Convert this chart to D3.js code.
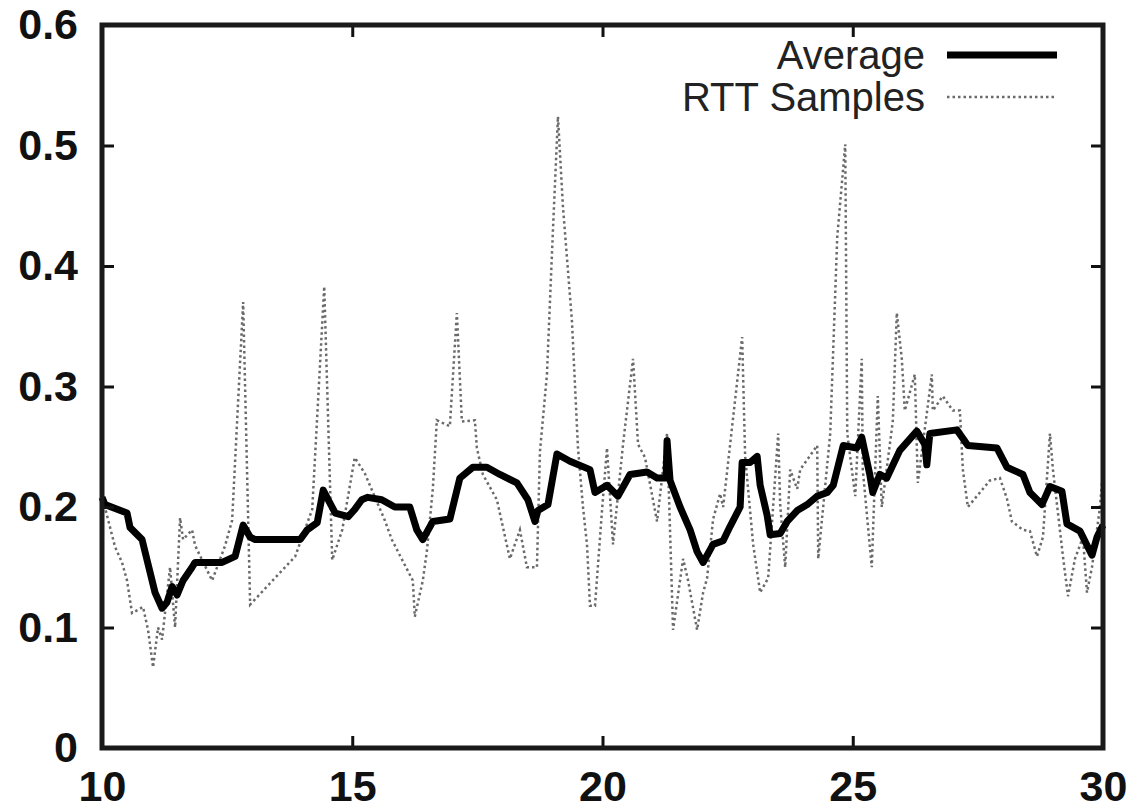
<!DOCTYPE html>
<html lang="en">
<head>
    <meta charset="UTF-8">
    <title>RTT Samples and Average</title>
    <script src="https://d3js.org/d3.v7.min.js"></script>
    <style>
        body { margin: 0; background: #fff; }
        .tick-label { font-family: "Liberation Sans", Arial, sans-serif; font-weight: bold; font-size: 43px; fill: #111; }
        .legend-label { font-family: "Liberation Sans", Arial, sans-serif; font-size: 40px; fill: #222; }
    </style>
</head>
<body>
    <div id="chart"></div>
    <script>
        // Average (smoothed RTT), time in seconds
        const avgTime = [10.00, 10.06, 10.50, 10.56, 10.80, 10.90, 11.06, 11.20, 11.30, 11.40, 11.50, 11.62, 11.80, 11.86,
            12.40, 12.66, 12.82, 12.96, 13.06, 13.96, 14.10, 14.30, 14.42, 14.52, 14.66, 14.92, 15.05, 15.19, 15.31, 15.59,
            15.85, 16.15, 16.29, 16.41, 16.61, 16.95, 17.15, 17.41, 17.69, 17.95, 18.29, 18.51, 18.65, 18.71, 18.91, 19.09,
            19.35, 19.75, 19.85, 20.09, 20.31, 20.55, 20.89, 21.09, 21.27, 21.29, 21.35, 21.55, 21.75, 21.89, 22.01, 22.21,
            22.41, 22.55, 22.75, 22.79, 22.95, 23.09, 23.15, 23.29, 23.35, 23.55, 23.69, 23.89, 24.09, 24.29, 24.49, 24.61,
            24.81, 25.08, 25.18, 25.34, 25.40, 25.54, 25.68, 25.94, 26.28, 26.44, 26.48, 26.54, 27.08, 27.30, 27.88, 28.08,
            28.40, 28.54, 28.78, 28.94, 29.18, 29.28, 29.54, 29.78, 29.88, 30.00];
        const avgValue = [0.208, 0.202, 0.195, 0.183, 0.173, 0.156, 0.129, 0.116, 0.121, 0.134, 0.127, 0.139, 0.150, 0.154,
            0.154, 0.159, 0.185, 0.175, 0.173, 0.173, 0.181, 0.187, 0.214, 0.206, 0.195, 0.192, 0.198, 0.206, 0.208, 0.206,
            0.200, 0.200, 0.181, 0.173, 0.188, 0.190, 0.224, 0.233, 0.233, 0.227, 0.220, 0.206, 0.188, 0.197, 0.202, 0.244,
            0.238, 0.231, 0.212, 0.218, 0.209, 0.227, 0.229, 0.224, 0.224, 0.255, 0.222, 0.200, 0.181, 0.163, 0.154, 0.169,
            0.172, 0.184, 0.200, 0.237, 0.237, 0.242, 0.218, 0.193, 0.177, 0.178, 0.188, 0.197, 0.202, 0.209, 0.212, 0.218,
            0.251, 0.249, 0.258, 0.227, 0.212, 0.227, 0.224, 0.247, 0.263, 0.252, 0.235, 0.261, 0.264, 0.251, 0.249, 0.233,
            0.227, 0.212, 0.202, 0.217, 0.213, 0.186, 0.180, 0.160, 0.175, 0.185];

        // Raw RTT samples
        const sampleTime = [10.02, 10.26, 10.40, 10.50, 10.60, 10.82, 10.92, 11.02, 11.12, 11.20, 11.36, 11.46, 11.56, 11.62,
            11.80, 11.86, 12.20, 12.46, 12.60, 12.82, 12.96, 13.86, 14.20, 14.44, 14.60, 14.80, 15.05, 15.25, 15.65, 15.79,
            15.95, 16.21, 16.25, 16.41, 16.49, 16.61, 16.69, 16.95, 17.09, 17.19, 17.45, 17.49, 17.61, 17.89, 18.15, 18.35,
            18.49, 18.69, 18.75, 18.89, 19.01, 19.11, 19.21, 19.39, 19.51, 19.61, 19.69, 19.75, 19.85, 19.99, 20.09, 20.21,
            20.41, 20.61, 20.71, 20.85, 21.09, 21.29, 21.41, 21.61, 21.71, 21.89, 22.01, 22.09, 22.21, 22.35, 22.41, 22.79,
            22.85, 23.01, 23.15, 23.31, 23.51, 23.55, 23.65, 23.75, 23.89, 23.95, 24.29, 24.31, 24.55, 24.69, 24.85, 24.89,
            25.05, 25.18, 25.20, 25.38, 25.50, 25.58, 25.80, 25.88, 25.98, 26.04, 26.24, 26.30, 26.58, 26.60, 26.80, 27.00,
            27.14, 27.20, 27.30, 27.74, 27.94, 28.08, 28.18, 28.40, 28.54, 28.68, 28.80, 28.94, 29.00, 29.20, 29.30, 29.44,
            29.60, 29.68, 29.78, 29.94, 30.00];
        const sampleValue = [0.206, 0.167, 0.154, 0.139, 0.112, 0.117, 0.098, 0.067, 0.100, 0.090, 0.150, 0.100, 0.191, 0.173,
            0.181, 0.168, 0.139, 0.168, 0.189, 0.370, 0.119, 0.159, 0.198, 0.383, 0.156, 0.181, 0.241, 0.228, 0.189, 0.173,
            0.160, 0.139, 0.109, 0.139, 0.163, 0.215, 0.272, 0.267, 0.361, 0.271, 0.272, 0.249, 0.227, 0.206, 0.157, 0.181,
            0.150, 0.150, 0.246, 0.310, 0.430, 0.524, 0.449, 0.354, 0.249, 0.200, 0.169, 0.118, 0.118, 0.197, 0.249, 0.169,
            0.252, 0.323, 0.252, 0.241, 0.188, 0.261, 0.098, 0.157, 0.139, 0.098, 0.129, 0.141, 0.190, 0.211, 0.200, 0.341,
            0.242, 0.169, 0.129, 0.141, 0.261, 0.202, 0.150, 0.231, 0.215, 0.231, 0.251, 0.157, 0.261, 0.424, 0.501, 0.261,
            0.209, 0.323, 0.231, 0.150, 0.292, 0.200, 0.271, 0.361, 0.323, 0.280, 0.310, 0.220, 0.310, 0.280, 0.292, 0.280,
            0.280, 0.231, 0.200, 0.222, 0.224, 0.207, 0.188, 0.181, 0.180, 0.159, 0.175, 0.261, 0.231, 0.159, 0.126, 0.157,
            0.175, 0.129, 0.150, 0.200, 0.231];

        const xTicks = [10, 15, 20, 25, 30];
        const yTicks = [0, 0.1, 0.2, 0.3, 0.4, 0.5, 0.6];
        const legendNames = ["Average", "RTT Samples"];

        const width = 1131;
        const height = 810;
        const margin = { top: 25, right: 28, bottom: 62, left: 102 };

        const svg = d3.select("#chart")
            .append("svg")
            .attr("width", width)
            .attr("height", height);

        const x = d3.scaleLinear().domain([10, 30]).range([margin.left, width - margin.right]);
        const y = d3.scaleLinear().domain([0, 0.6]).range([height - margin.bottom, margin.top]);

        const avgData = avgTime.map((t, i) => [t, avgValue[i]]);
        const sampleData = sampleTime.map((t, i) => [t, sampleValue[i]]);

        const line = d3.line().x(d => x(d[0])).y(d => y(d[1]));

        // samples (dotted grey)
        svg.append("path")
            .datum(sampleData)
            .attr("d", line)
            .attr("fill", "none")
            .attr("stroke", "#6a6a6a")
            .attr("stroke-width", 2.5)
            .attr("stroke-dasharray", "2.5,3");

        // average (thick black)
        svg.append("path")
            .datum(avgData)
            .attr("d", line)
            .attr("fill", "none")
            .attr("stroke", "#000")
            .attr("stroke-width", 7)
            .attr("stroke-linejoin", "round");

        // axes with inward ticks, mirrored on all sides
        const tickLen = 12;
        const bottomAxis = svg.append("g")
            .attr("transform", `translate(0,${height - margin.bottom})`)
            .call(d3.axisBottom(x).tickValues(xTicks).tickSize(-tickLen).tickFormat(d3.format("d")).tickPadding(22));
        const topAxis = svg.append("g")
            .attr("transform", `translate(0,${margin.top})`)
            .call(d3.axisTop(x).tickValues(xTicks).tickSize(-tickLen).tickFormat(""));
        const leftAxis = svg.append("g")
            .attr("transform", `translate(${margin.left},0)`)
            .call(d3.axisLeft(y).tickValues(yTicks).tickSize(-tickLen).tickFormat(d => d === 0 ? "0" : d3.format(".1f")(d)).tickPadding(24));
        const rightAxis = svg.append("g")
            .attr("transform", `translate(${width - margin.right},0)`)
            .call(d3.axisRight(y).tickValues(yTicks).tickSize(-tickLen).tickFormat(""));

        [bottomAxis, topAxis, leftAxis, rightAxis].forEach(g => {
            g.select(".domain").remove();
            g.selectAll(".tick line").attr("stroke", "#111").attr("stroke-width", 3);
            g.selectAll(".tick text").attr("class", "tick-label").attr("font-size", null).attr("font-family", null);
        });
        bottomAxis.selectAll(".tick text").attr("dy", "0.71em");

        // frame
        svg.append("rect")
            .attr("x", margin.left)
            .attr("y", margin.top)
            .attr("width", width - margin.left - margin.right)
            .attr("height", height - margin.top - margin.bottom)
            .attr("fill", "none")
            .attr("stroke", "#1a1a1a")
            .attr("stroke-width", 5);

        // legend
        const legend = svg.append("g");
        const legendY = [55, 97];
        legendNames.forEach((name, i) => {
            legend.append("text")
                .attr("class", "legend-label")
                .attr("x", 925)
                .attr("y", legendY[i])
                .attr("dy", "0.35em")
                .attr("text-anchor", "end")
                .text(name);
            const l = legend.append("line")
                .attr("x1", 947).attr("x2", 1057)
                .attr("y1", legendY[i]).attr("y2", legendY[i]);
            if (i === 0) {
                l.attr("stroke", "#000").attr("stroke-width", 7);
            } else {
                l.attr("stroke", "#6a6a6a").attr("stroke-width", 2.5).attr("stroke-dasharray", "2.5,3");
            }
        });
    </script>
</body>
</html>
